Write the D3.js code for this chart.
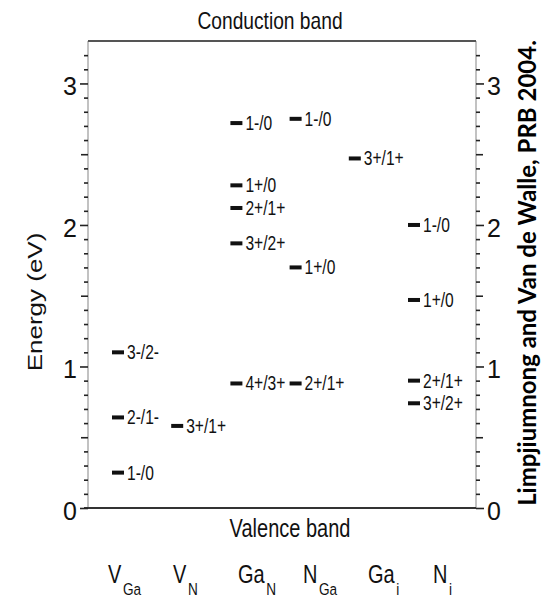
<!DOCTYPE html>
<html>
<head>
<meta charset="utf-8">
<script src="https://cdn.jsdelivr.net/npm/d3@7"></script>
<style>
  body { margin: 0; background: #fff; }
  svg { display: block; font-family: 'Liberation Sans', Arial, sans-serif; }
</style>
</head>
<body>
<div class="chart"></div>
<script>
// defects (main symbol + subscript)
const defects = ['VGa', 'VN', 'GaN', 'NGa', 'Gai', 'Ni'];
const defectMain = ['V', 'V', 'Ga', 'N', 'Ga', 'N'];
const defectSub = ['Ga', 'N', 'N', 'Ga', 'i', 'i'];

// transition levels, eV above valence band
const levelDefect = ['VGa', 'VGa', 'VGa', 'VN', 'GaN', 'GaN', 'GaN', 'GaN', 'GaN',
                     'NGa', 'NGa', 'NGa', 'Gai', 'Ni', 'Ni', 'Ni', 'Ni'];
const levelEnergy = [1.10, 0.64, 0.25, 0.58, 2.72, 2.28, 2.12, 1.87, 0.88,
                     2.75, 1.70, 0.88, 2.47, 2.00, 1.47, 0.90, 0.74];
const levelLabel = ['3-/2-', '2-/1-', '1-/0', '3+/1+', '1-/0', '1+/0', '2+/1+', '3+/2+', '4+/3+',
                    '1-/0', '1+/0', '2+/1+', '3+/1+', '1-/0', '1+/0', '2+/1+', '3+/2+'];

const majorTicks = [0, 1, 2, 3];
const halfTicks = [0.5, 1.5, 2.5];

const width = 543, height = 601;
const mLeft = 88, mRight = 476, mTop = 41, mBottom = 508;
const sx = 0.8; // figure text is horizontally squeezed

const svg = d3.select('.chart').append('svg')
    .attr('width', width)
    .attr('height', height);

const y = d3.scaleLinear().domain([0, 3.3]).range([mBottom, mTop]);
const x = d3.scalePoint().domain(defects).range([112, 408]);
const xLab = d3.scalePoint().domain(defects).range([108, 433]);

const minorTicks = d3.range(1, 33).map(d => d / 10).filter(d => Math.abs(d * 2 - Math.round(d * 2)) > 1e-6);

// frame
svg.append('line').attr('x1', mLeft).attr('x2', mLeft).attr('y1', mTop).attr('y2', mBottom)
    .attr('stroke', '#999').attr('stroke-width', 1.2);
svg.append('line').attr('x1', mRight).attr('x2', mRight).attr('y1', mTop).attr('y2', mBottom)
    .attr('stroke', '#999').attr('stroke-width', 1.2);
svg.append('line').attr('x1', mLeft).attr('x2', mRight).attr('y1', mTop).attr('y2', mTop)
    .attr('stroke', '#555').attr('stroke-width', 1.8);
svg.append('line').attr('x1', mLeft - 4).attr('x2', mRight).attr('y1', mBottom).attr('y2', mBottom)
    .attr('stroke', '#333').attr('stroke-width', 2);

// axes, ticks pointing out
function drawAxis(axisFn, xpos) {
    const g1 = svg.append('g').attr('transform', `translate(${xpos},0)`)
        .call(axisFn(y).tickValues(minorTicks).tickSize(4).tickFormat(''));
    const g2 = svg.append('g').attr('transform', `translate(${xpos},0)`)
        .call(axisFn(y).tickValues(halfTicks).tickSize(7).tickFormat(''));
    const g3 = svg.append('g').attr('transform', `translate(${xpos},0)`)
        .call(axisFn(y).tickValues(majorTicks).tickSize(8).tickPadding(3).tickFormat(d3.format('d')));
    [g1, g2, g3].forEach(g => {
        g.select('.domain').remove();
        g.selectAll('line').attr('stroke', '#222').attr('stroke-width', 1.6);
    });
    g3.selectAll('text')
        .attr('font-size', 25)
        .attr('font-family', "'Liberation Sans', Arial, sans-serif")
        .attr('dy', '0.45em')
        .attr('fill', '#111');
}
drawAxis(d3.axisLeft, mLeft);
drawAxis(d3.axisRight, mRight);

// level dashes
const levels = levelEnergy.map((e, i) => ({ defect: levelDefect[i], e: e, label: levelLabel[i] }));

svg.selectAll('rect.level')
    .data(levels)
    .enter()
    .append('rect')
    .attr('class', 'level')
    .attr('x', d => x(d.defect))
    .attr('y', d => y(d.e) - 2)
    .attr('width', 12)
    .attr('height', 4)
    .attr('fill', '#111');

svg.selectAll('text.level')
    .data(levels)
    .enter()
    .append('text')
    .attr('class', 'level')
    .attr('transform', d => `translate(${x(d.defect) + 15},${y(d.e) + 7}) scale(${sx},1)`)
    .attr('font-size', 19.5)
    .attr('fill', '#111')
    .text(d => d.label);

// band labels
svg.append('text')
    .attr('transform', `translate(270,29) scale(${sx},1)`)
    .attr('text-anchor', 'middle')
    .attr('font-size', 24)
    .attr('fill', '#111')
    .text('Conduction band');

svg.append('text')
    .attr('transform', `translate(290,537) scale(${sx},1)`)
    .attr('text-anchor', 'middle')
    .attr('font-size', 25)
    .attr('fill', '#111')
    .text('Valence band');

svg.append('text')
    .attr('transform', `translate(42,302) rotate(-90) scale(1,${sx})`)
    .attr('text-anchor', 'middle')
    .attr('font-size', 26)
    .attr('fill', '#111')
    .text('Energy (eV)');

// defect names
const names = svg.selectAll('text.defect')
    .data(defects)
    .enter()
    .append('text')
    .attr('class', 'defect')
    .attr('transform', d => `translate(${xLab(d)},583) scale(${sx},1)`)
    .attr('fill', '#111');
names.append('tspan')
    .attr('font-size', 25)
    .text((d, i) => defectMain[i]);
names.append('tspan')
    .attr('font-size', 17)
    .attr('dx', 2)
    .attr('dy', 12)
    .text((d, i) => defectSub[i]);

// citation
svg.append('text')
    .attr('transform', 'translate(536,273) rotate(-90)')
    .attr('text-anchor', 'middle')
    .attr('font-family', 'Lato, sans-serif')
    .attr('font-weight', 'bold')
    .attr('font-size', 24)
    .attr('fill', '#000')
    .text('Limpjiumnong and Van de Walle, PRB 2004.');
</script>
</body>
</html>
